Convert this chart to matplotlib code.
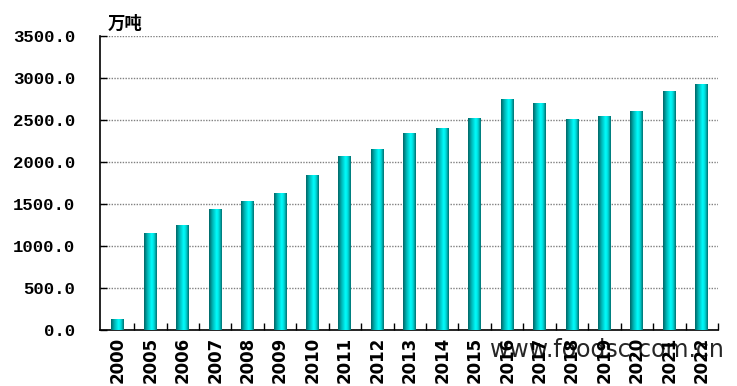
import numpy as np
import matplotlib.pyplot as plt
from matplotlib.colors import LinearSegmentedColormap

years = ['2000', '2005', '2006', '2007', '2008', '2009', '2010', '2011', '2012',
         '2013', '2014', '2015', '2016', '2017', '2018', '2019', '2020', '2021', '2022']
output = [130, 1145, 1240, 1440, 1525, 1630, 1845, 2060, 2145,
          2337, 2396, 2515, 2741, 2694, 2503, 2539, 2599, 2837, 2920]
y_ticks = [0, 500, 1000, 1500, 2000, 2500, 3000, 3500]

fig = plt.figure(figsize=(7.37, 3.86), dpi=100)
ax = fig.add_axes([100/737, 1-330/386, 618/737, 294/386])

# cylinder-like shading for the bars
cyl = LinearSegmentedColormap.from_list(
    'cyl', [(0, '#006464'), (0.25, '#00b0b0'), (0.6, '#00ffff'), (0.8, '#00d4d4'), (1, '#006c6c')])
grad = np.linspace(0, 1, 64).reshape(1, -1)

x = np.arange(len(years))
w = 0.4
bars = ax.bar(x, output, w, color='none', zorder=3)
for b in bars:
    x0 = b.get_x()
    ax.imshow(grad, cmap=cyl, aspect='auto', interpolation='bicubic',
              extent=[x0, x0 + b.get_width(), 0, b.get_height()], zorder=3)

ax.set_xlim(-0.55, len(years) - 0.5)
ax.set_ylim(0, 3500)

ax.set_yticks(y_ticks)
ax.set_yticklabels(['%.1f' % v for v in y_ticks], fontfamily='Liberation Mono',
                   fontweight='bold', fontsize=12.5)
ax.yaxis.grid(True, color='#808080', linestyle=(0, (1, 1)), linewidth=1, zorder=1)
ax.tick_params(axis='y', direction='in', length=5, width=1, pad=18)

ax.set_xticks(x)
ax.set_xticklabels(years, rotation=90, fontfamily='DejaVu Sans', fontweight='bold', fontsize=12)
ax.set_xticks(np.arange(len(years)) + 0.5, minor=True)
ax.tick_params(axis='x', which='major', length=0, pad=5)
ax.tick_params(axis='x', which='minor', direction='in', length=5, width=1)

for s in ['top', 'right']:
    ax.spines[s].set_visible(False)
ax.spines['left'].set_linewidth(1.2)
ax.spines['bottom'].set_linewidth(1.2)

fig.text(108/737, 1-24/386, '万吨', fontfamily='Noto Sans CJK SC', fontweight='bold',
         fontsize=12.5, va='center', ha='left')

# watermark
fig.text(490/737, 1-350/386, 'www.foodsc.com.cn', fontfamily='DejaVu Sans',
         fontsize=17, va='center', ha='left', color='black', alpha=0.85)

fig.savefig('out.png', dpi=100)
